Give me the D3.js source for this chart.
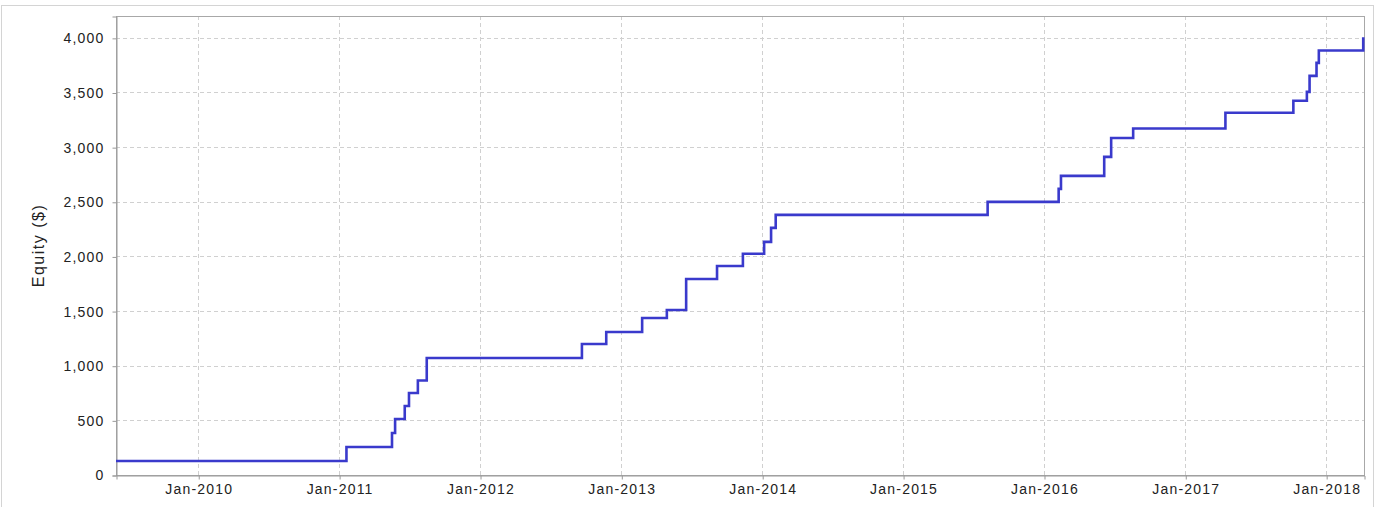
<!DOCTYPE html>
<html>
<head>
<meta charset="utf-8">
<script src="https://cdn.jsdelivr.net/npm/d3@7"></script>
<style>
  body { margin: 0; background: #fff; }
  svg text { font-family: "Liberation Sans", Arial, sans-serif; fill: #222; }
</style>
</head>
<body>
<div id="chart"></div>
<script>
// Step dates (equity changes) and equity after each change
const stepDates = ['2009-06-02', '2011-01-20', '2011-05-18', '2011-05-26', '2011-06-20',
  '2011-07-01', '2011-07-24', '2011-08-16', '2012-09-21', '2012-11-23', '2013-02-24',
  '2013-04-29', '2013-06-18', '2013-09-06', '2013-11-12', '2014-01-06', '2014-01-24',
  '2014-02-05', '2015-08-08', '2016-02-08', '2016-02-14', '2016-06-05', '2016-06-23',
  '2016-08-19', '2017-04-15', '2017-10-08', '2017-11-12', '2017-11-19', '2017-12-07',
  '2017-12-13', '2018-04-07'];
const equity = [128, 256, 384, 512, 632, 750, 865, 1071, 1199, 1309, 1437,
  1510, 1794, 1913, 2025, 2133, 2261, 2380, 2499, 2618, 2737, 2911, 3084,
  3170, 3315, 3425, 3506, 3652, 3771, 3884, 4005];
const yTicks = [0, 500, 1000, 1500, 2000, 2500, 3000, 3500, 4000];
const xStart = '2009-06-02';
const xEnd = '2018-04-09';
const yMax = 4200;

const parseDate = d3.timeParse('%Y-%m-%d');
const data = stepDates.map((d, i) => ({ date: parseDate(d), value: equity[i] }));

//Chart dimensions
const W = 1385, H = 507;
const margin = { top: 16, left: 116, right: 21, bot: 32 };
const width = W - margin.left - margin.right;
const height = H - margin.top - margin.bot;

const svg = d3.select('#chart').append('svg')
  .attr('width', W)
  .attr('height', H);

// outer frame
svg.append('rect')
  .attr('x', 1.5).attr('y', 5.5)
  .attr('width', 1372).attr('height', 520)
  .attr('fill', 'none')
  .attr('stroke', '#d4d4d4');

const g = svg.append('g')
  .attr('transform', `translate(${margin.left}, ${margin.top})`);

// Scales
const xScale = d3.scaleTime()
  .domain([parseDate(xStart), parseDate(xEnd)])
  .range([0, width]);

const yScale = d3.scaleLinear()
  .domain([0, yMax])
  .range([height, 0]);

const yearTicks = xScale.ticks(d3.timeYear.every(1))
  .filter(d => xScale(d) > 0);

// grid
g.append('g').selectAll('line')
  .data(yTicks.filter(d => d > 0))
  .join('line')
  .attr('x1', 0).attr('x2', width)
  .attr('y1', d => Math.round(yScale(d)) + 0.5)
  .attr('y2', d => Math.round(yScale(d)) + 0.5)
  .attr('stroke', '#d0d0d0')
  .attr('stroke-dasharray', '4,3');

g.append('g').selectAll('line')
  .data(yearTicks)
  .join('line')
  .attr('y1', 0).attr('y2', height)
  .attr('x1', d => Math.round(xScale(d)) + 0.5)
  .attr('x2', d => Math.round(xScale(d)) + 0.5)
  .attr('stroke', '#d0d0d0')
  .attr('stroke-dasharray', '4,3');

// plot border
g.append('rect')
  .attr('x', 0.5).attr('y', 0.5)
  .attr('width', width).attr('height', height)
  .attr('fill', 'none')
  .attr('stroke', '#a8a8a8');

//Axes
const xAxis = d3.axisBottom(xScale)
  .tickValues(yearTicks)
  .tickFormat(d3.timeFormat('%b-%Y'))
  .tickSize(4)
  .tickPadding(5);

const yAxis = d3.axisLeft(yScale)
  .tickValues(yTicks)
  .tickFormat(d3.format(','))
  .tickSize(4)
  .tickPadding(8);

const xAxisGroup = g.append('g')
  .attr('transform', `translate(0.5, ${height + 0.5})`)
  .call(xAxis);

const yAxisGroup = g.append('g')
  .attr('transform', 'translate(0.5, 0.5)')
  .call(yAxis);

[xAxisGroup, yAxisGroup].forEach(ax => {
  ax.select('.domain').attr('stroke', '#999');
  ax.selectAll('.tick line').attr('stroke', '#999');
  ax.selectAll('.tick text')
    .attr('fill', '#222')
    .style('font-size', '14px')
    .style('letter-spacing', '1.2px')
    .style('font-family', '"Liberation Sans", Arial, sans-serif');
});

// axis title
svg.append('text')
  .attr('transform', `translate(44, ${margin.top + height / 2}) rotate(-90)`)
  .attr('text-anchor', 'middle')
  .style('font-size', '16px')
  .style('letter-spacing', '1.5px')
  .text('Equity ($)');

//Equity line
const equityLine = d3.line()
  .x(d => xScale(d.date))
  .y(d => yScale(d.value))
  .curve(d3.curveStepAfter);

g.append('path')
  .attr('d', equityLine(data))
  .attr('fill', 'none')
  .attr('stroke', '#3a3acc')
  .attr('stroke-width', 2.6);
</script>
</body>
</html>
